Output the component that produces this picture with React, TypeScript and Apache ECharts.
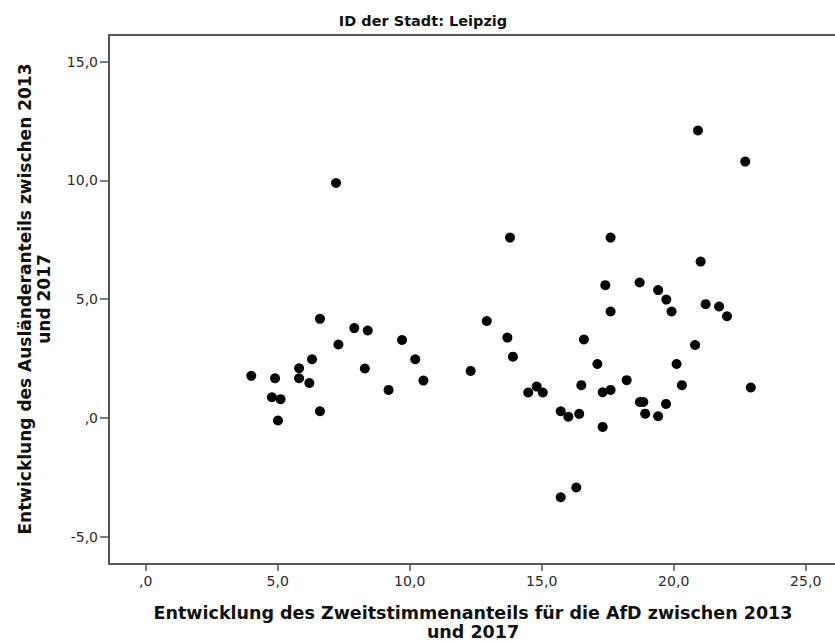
import { useEffect, useRef } from "react";
import * as echarts from "echarts";

// AfD second-vote change (x) vs. change in foreigner share (y), Leipzig
const afdChange = [
  4.0, 4.9, 4.78, 5.11, 5.01, 5.81, 5.81, 6.2, 6.3, 6.6, 6.6, 7.21, 7.3, 7.9, 8.41, 8.3,
  9.2, 9.71, 10.21, 10.52, 12.31, 12.92, 13.7, 13.8, 13.91, 14.49, 14.81, 15.04, 15.72,
  16.01, 16.42, 15.72, 16.31, 16.5, 16.6, 17.11, 17.31, 17.61, 17.31, 17.41, 17.61, 17.61,
  18.22, 18.71, 18.72, 18.85, 18.92, 19.41, 19.71, 19.41, 19.72, 19.92, 20.11, 20.31,
  20.81, 20.92, 21.02, 21.21, 21.72, 22.02, 22.71, 22.92,
];
const foreignerChange = [
  1.77, 1.67, 0.87, 0.79, -0.11, 2.09, 1.67, 1.47, 2.47, 4.17, 0.28, 9.89, 3.09, 3.78, 3.68, 2.08,
  1.18, 3.28, 2.47, 1.57, 1.98, 4.08, 3.38, 7.59, 2.58, 1.07, 1.32, 1.07, 0.28,
  0.05, 0.17, -3.34, -2.93, 1.38, 3.3, 2.27, 1.08, 1.18, -0.38, 5.59, 7.59, 4.48,
  1.59, 5.7, 0.67, 0.67, 0.18, 0.07, 0.59, 5.38, 4.98, 4.48, 2.27, 1.38,
  3.07, 12.1, 6.58, 4.79, 4.69, 4.28, 10.79, 1.28,
];
const xTickValues = [0, 5, 10, 15, 20, 25];
const yTickValues = [-5, 0, 5, 10, 15];
const chartTitle = "ID der Stadt: Leipzig";
const xTitle = "Entwicklung des Zweitstimmenanteils für die AfD zwischen 2013\nund 2017";
const yTitle = "Entwicklung des Ausländeranteils zwischen 2013\nund 2017";

const fmt = (v: number) => (v === 0 ? ",0" : v.toFixed(1).replace(".", ","));

const FONT = "DejaVu Sans";
const AXIS_COLOR = "#555555";

export default function App() {
  const ref = useRef<HTMLDivElement>(null);
  useEffect(() => {
    if (!ref.current) return;
    const chart = echarts.init(ref.current, undefined, { renderer: "svg" });
    const points = afdChange.map((x, i) => [x, foreignerChange[i]]);
    chart.setOption({
      animation: false,
      backgroundColor: "#ffffff",
      textStyle: { fontFamily: FONT },
      grid: { left: 109, top: 35, right: 0, bottom: 77, containLabel: false },
      xAxis: [
        {
          type: "value",
          min: -1.39,
          max: 26.11,
          interval: 5,
          position: "bottom",
          splitLine: { show: false },
          axisLine: { show: true, onZero: false, lineStyle: { color: AXIS_COLOR, width: 2 } },
          axisTick: {
            show: true,
            length: 7,
            customValues: xTickValues,
            lineStyle: { color: AXIS_COLOR, width: 1.5 },
          },
          axisLabel: {
            customValues: xTickValues,
            formatter: (v: number) => fmt(v),
            color: "#2a2a2a",
            fontSize: 14,
            fontFamily: FONT,
            margin: 10,
          },
        },
        {
          type: "value",
          min: -1.39,
          max: 26.11,
          position: "top",
          splitLine: { show: false },
          axisLine: { show: true, onZero: false, lineStyle: { color: AXIS_COLOR, width: 2 } },
          axisTick: { show: false },
          axisLabel: { show: false },
        },
      ],
      yAxis: {
        type: "value",
        min: -6.15,
        max: 16.12,
        interval: 5,
        splitLine: { show: false },
        axisLine: { show: true, onZero: false, lineStyle: { color: AXIS_COLOR, width: 2 } },
        axisTick: {
          show: true,
          length: 9,
          customValues: yTickValues,
          lineStyle: { color: AXIS_COLOR, width: 1.5 },
        },
        axisLabel: {
          customValues: yTickValues,
          formatter: (v: number) => fmt(v),
          color: "#2a2a2a",
          fontSize: 14,
          fontFamily: FONT,
          margin: 11,
        },
      },
      graphic: [
        {
          type: "text",
          x: 423,
          y: 21,
          style: {
            text: chartTitle,
            fontFamily: FONT,
            fontWeight: "bold",
            fontSize: 14.5,
            fill: "#111111",
            textAlign: "center",
            textVerticalAlign: "middle",
          },
        },
        {
          type: "text",
          x: 473,
          y: 622,
          style: {
            text: xTitle,
            fontFamily: FONT,
            fontWeight: "bold",
            fontSize: 17.5,
            lineHeight: 19,
            fill: "#111111",
            textAlign: "center",
            textVerticalAlign: "middle",
          },
        },
        {
          type: "text",
          x: 34.5,
          y: 299,
          rotation: Math.PI / 2,
          style: {
            text: yTitle,
            fontFamily: FONT,
            fontWeight: "bold",
            fontSize: 17,
            lineHeight: 19,
            fill: "#111111",
            textAlign: "center",
            textVerticalAlign: "middle",
          },
        },
      ],
      series: [
        {
          type: "scatter",
          xAxisIndex: 0,
          yAxisIndex: 0,
          data: points,
          symbol: "circle",
          symbolSize: 10,
          itemStyle: { color: "#000000", opacity: 1 },
          clip: false,
        },
      ],
    });
    return () => chart.dispose();
  }, []);
  return (
    <div
      ref={ref}
      style={{ position: "absolute", left: 0, top: 0, width: 835, height: 641 }}
    />
  );
}
